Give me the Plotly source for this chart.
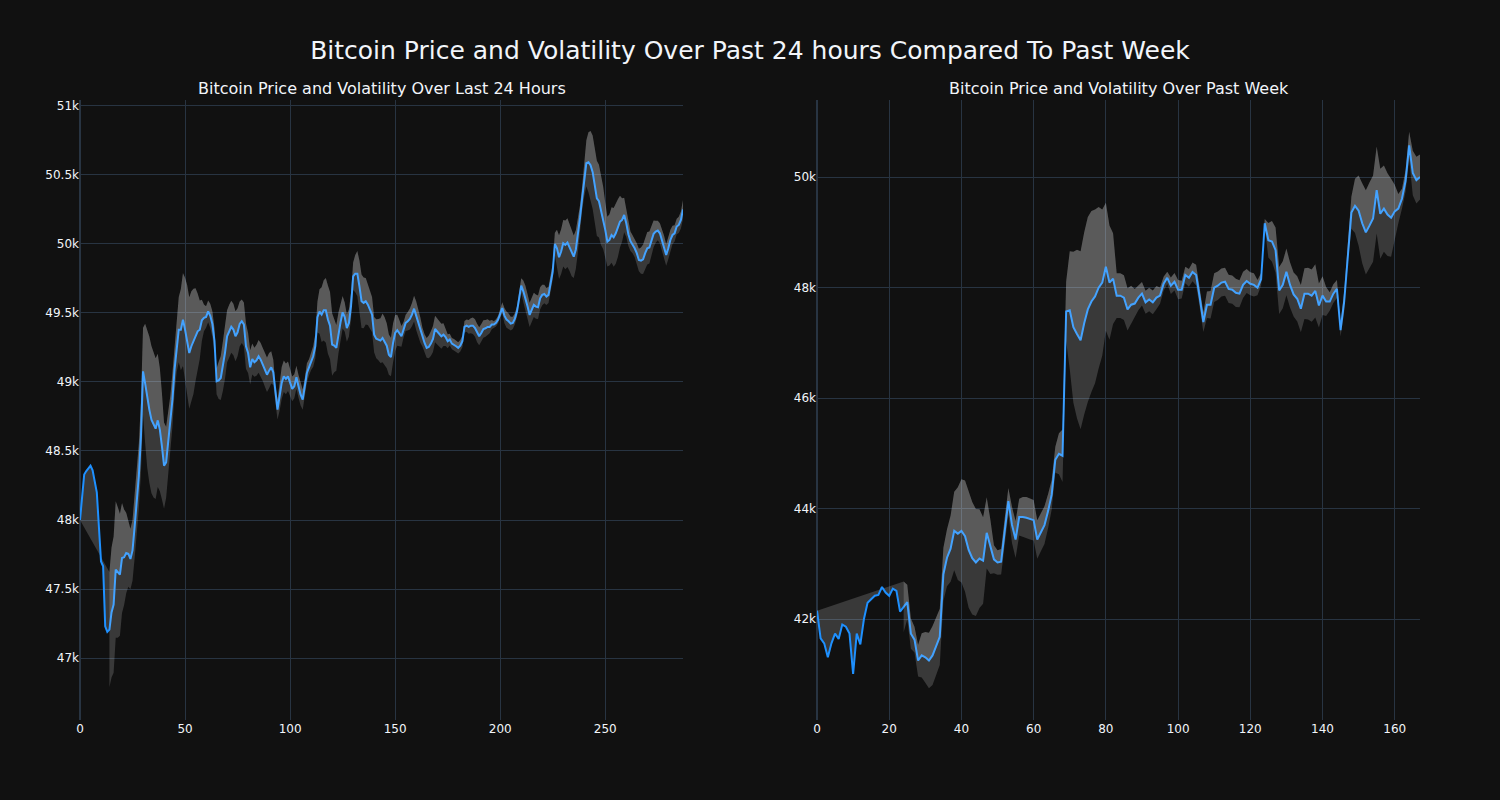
import numpy as np
import pandas as pd
import plotly.graph_objects as go
from plotly.subplots import make_subplots

# ---- data ----
price_24h = [
    48000, 48170, 48330, 48355, 48375, 48394, 48360, 48290, 48200, 47950,
    47700, 47665, 47230, 47189, 47206, 47330, 47387, 47641, 47620, 47604,
    47725, 47730, 47761, 47756, 47718, 47780, 47950, 48120, 48317, 48600,
    49077, 48990, 48880, 48800, 48727, 48691, 48662, 48722, 48655, 48534,
    48394, 48418, 48558, 48703, 48872, 49090, 49259, 49379, 49379, 49452,
    49379, 49307, 49210, 49259, 49295, 49343, 49367, 49379, 49447, 49464,
    49471, 49512, 49480, 49420, 49300, 49005, 49012, 49029, 49114, 49210,
    49331, 49370, 49400, 49380, 49331, 49360, 49420, 49440, 49416, 49259,
    49210, 49106, 49167, 49143, 49157, 49186, 49162, 49126, 49085, 49053,
    49082, 49106, 49070, 48920, 48800, 48896, 48993, 49041, 49022, 49041,
    48988, 48950, 48969, 49034, 48969, 48908, 48872, 48957, 49065, 49106,
    49150, 49186, 49259, 49470, 49510, 49488, 49519, 49519, 49452, 49408,
    49271, 49263, 49247, 49355, 49432, 49505, 49470, 49391, 49428, 49550,
    49766, 49785, 49785, 49693, 49585, 49573, 49585, 49560, 49524, 49488,
    49343, 49314, 49307, 49300, 49319, 49295, 49263, 49198, 49181, 49283,
    49355, 49375, 49355, 49331, 49379, 49428, 49440, 49457, 49488, 49531,
    49481, 49428, 49375, 49324, 49283, 49247, 49254, 49278, 49312, 49384,
    49367, 49348, 49331, 49343, 49326, 49295, 49307, 49278, 49271, 49259,
    49247, 49263, 49295, 49399, 49408, 49399, 49408, 49408, 49391, 49355,
    49331, 49355, 49384, 49389, 49399, 49399, 49416, 49416, 49428, 49452,
    49500, 49536, 49481, 49452, 49440, 49423, 49428, 49459, 49512, 49597,
    49698, 49657, 49609, 49548, 49486, 49522, 49558, 49546, 49541, 49606,
    49631, 49638, 49619, 49631, 49703, 49800, 50000, 49969, 49904, 49945,
    50005, 49993, 50010, 49975, 49930, 49908, 49960, 50060, 50190, 50330,
    50460, 50585, 50592, 50570, 50520, 50430, 50330, 50310, 50240, 50190,
    50102, 50017, 50029, 50065, 50048, 50077, 50114, 50162, 50174, 50210,
    50150, 50070, 50020, 49998, 49969, 49933, 49884, 49879, 49889, 49933,
    49969, 49974, 50030, 50073, 50089, 50097, 50077, 50029, 49981, 49920,
    49969, 50029, 50065, 50077, 50126, 50138, 50174, 50250,
]

price_week = [
    42150, 41650, 41560, 41306, 41560, 41735, 41640, 41899, 41860, 41735,
    41005, 41735, 41540, 42000, 42293, 42350, 42421, 42436, 42579, 42480,
    42420, 42550, 42508, 42135, 42221, 42307, 41735, 41627, 41248, 41341,
    41306, 41248, 41341, 41520, 41678, 42808, 43109, 43273, 43595, 43545,
    43595, 43500, 43250, 43100, 43023, 43094, 43058, 43560, 43309, 43080,
    43023, 43037, 43595, 44132, 43703, 43438, 43846, 43846, 43832, 43810,
    43789, 43438, 43574, 43700, 43953, 44250, 44883, 44991, 44955, 47567,
    47588, 47281, 47159, 47045, 47352, 47603, 47746, 47839, 47996, 48089,
    48376, 48089, 48161, 47853, 47853, 47817, 47603, 47689, 47710, 47817,
    47889, 47732, 47782, 47732, 47817, 47853, 48068, 48175, 48032, 48104,
    47961, 47961, 48225, 48175, 48282, 48225, 47817, 47374, 47689, 47689,
    47997, 48032, 48089, 48104, 47975, 47961, 47904, 47889, 48047, 48118,
    48068, 48047, 47997, 48150, 49163, 48855, 48834, 48676, 47946, 48050,
    48283, 48047, 47875, 47796, 47617, 47889, 47889, 47853, 47939, 47674,
    47853, 47746, 47746, 47889, 47975, 47230, 47746, 48605, 49356, 49478,
    49392, 49163, 48998, 49120, 49249, 49764, 49335, 49428, 49320, 49263,
    49378, 49428, 49607, 49928, 50572, 50072, 49943, 50000,
]

# volatility band: price +/- rolling std of the previous `window` points,
# shown from index `start` on
window_24h, band_start_24h = 14, 14
window_week, band_start_week = 14, 24

y_range_24h = [46551, 51043]
y_range_week = [40172, 51394]

main_title = "Bitcoin Price and Volatility Over Past 24 hours Compared To Past Week"
sub_titles = ["Bitcoin Price and Volatility Over Last 24 Hours",
              "Bitcoin Price and Volatility Over Past Week"]

LINE_COLOR = "dodgerblue"
FILL_COLOR = "rgba(255,255,255,0.17)"
FONT = "DejaVu Sans"


def band(values, window, start):
    s = pd.Series(values, dtype=float)
    sd = s.rolling(window).std().shift(1)
    sd.iloc[:start] = np.nan
    up = [None if np.isnan(v) else float(v) for v in (s + sd)]
    lo = [None if np.isnan(v) else float(v) for v in (s - sd)]
    return up, lo


fig = make_subplots(rows=1, cols=2, subplot_titles=sub_titles)

series = [(price_24h, window_24h, band_start_24h), (price_week, window_week, band_start_week)]
for col, (vals, win, start) in enumerate(series, start=1):
    x = list(range(len(vals)))
    up, lo = band(vals, win, start)
    fig.add_trace(go.Scatter(x=x, y=vals, mode="lines", name="Price",
                             line=dict(color=LINE_COLOR, width=2), showlegend=False),
                  row=1, col=col)
    fig.add_trace(go.Scatter(x=x, y=up, mode="lines", name="Upper",
                             line=dict(width=0), fill="tonexty", fillcolor=FILL_COLOR,
                             showlegend=False), row=1, col=col)
    fig.add_trace(go.Scatter(x=x, y=lo, mode="lines", name="Lower",
                             line=dict(width=0), fill="tonexty", fillcolor=FILL_COLOR,
                             showlegend=False), row=1, col=col)

fig.update_layout(
    template="plotly_dark",
    font=dict(family=FONT),
    title=dict(text=main_title, x=0.5, y=0.9375, yanchor="middle",
               font=dict(size=25, family=FONT)),
    width=1500, height=800,
    showlegend=False,
)
fig.update_yaxes(range=y_range_24h, row=1, col=1)
fig.update_yaxes(range=y_range_week, row=1, col=2)
fig.update_annotations(font=dict(size=16, family=FONT))

fig.write_html("out.html", config={"displayModeBar": False},
               post_script="document.body.style.margin='0px';")
